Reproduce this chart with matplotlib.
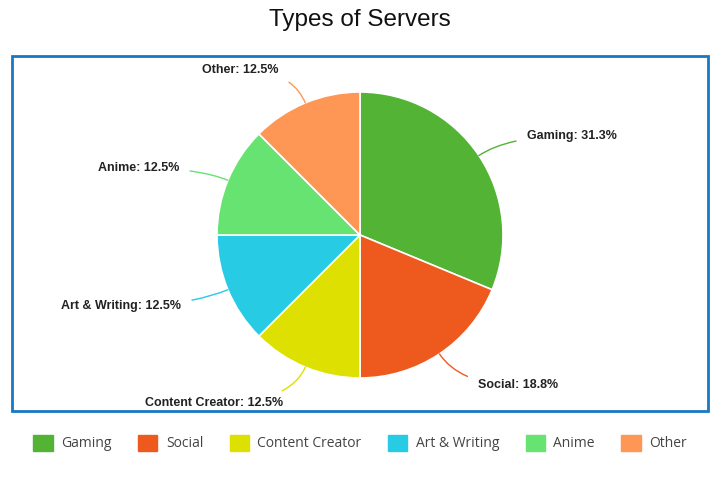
import numpy as np
import matplotlib
matplotlib.use("Agg")
from matplotlib import pyplot as plt
from matplotlib.patches import Rectangle, Patch

categories = ["Gaming", "Social", "Content Creator", "Art & Writing", "Anime", "Other"]
counts = [5, 3, 2, 2, 2, 2]
colors = ["#52b334", "#ee5a1e", "#dde000", "#27cbe4", "#66e371", "#fe9656"]

# label text positions (pixels) and text alignment
label_pos = [(527, 136, "left"), (478, 385, "left"), (283, 403, "right"),
             (181, 306, "right"), (179, 168, "right"), (279, 70, "right")]

fig = plt.figure(figsize=(7.2, 4.8), dpi=100)
ax = fig.add_axes([0, 0, 1, 1])

cx, cy, r = 360, 235, 143
# y axis is flipped below, so draw counterclockwise from -90 to get a clockwise pie from the top
wedges, _ = ax.pie(counts, colors=colors, startangle=-90, counterclock=True,
                   center=(cx, cy), radius=r, frame=True,
                   wedgeprops=dict(edgecolor="white", linewidth=1.2))
ax.set_xlim(0, 720)
ax.set_ylim(480, 0)
ax.axis("off")

total = sum(counts)
for w, name, c, col, (tx, ty, ha) in zip(wedges, categories, counts, colors, label_pos):
    mid_deg = (w.theta1 + w.theta2) / 2
    mid = np.deg2rad(mid_deg)
    px = cx + r * np.cos(mid)
    py = cy + r * np.sin(mid)
    pct = int(1000 * c / total + 0.5) / 10
    ax.annotate(f"{name}: {pct:.1f}%", xy=(px, py), xytext=(tx, ty),
                ha=ha, va="center", fontsize=9, fontweight="bold",
                family="Liberation Sans", color="#222222",
                arrowprops=dict(arrowstyle="-", color=col, lw=1,
                                shrinkA=6, shrinkB=0,
                                connectionstyle=f"angle3,angleA=0,angleB={-mid_deg}"))

ax.add_patch(Rectangle((12, 56), 696, 355, fill=False, edgecolor="#1a78c2", lw=2))

fig.text(0.5, 1 - 20 / 480, "Types of Servers", ha="center", va="center",
         fontsize=17.5, family="Liberation Sans", color="#111111")

handles = [Patch(facecolor=col, edgecolor=col) for col in colors]
fig.legend(handles, categories, loc="center", bbox_to_anchor=(0.5, 1 - 443 / 480),
           ncol=6, frameon=False, handlelength=1.4, handleheight=1.4,
           columnspacing=1.9, handletextpad=0.6, labelcolor="#444444",
           prop=dict(family="Open Sans", size=10))

fig.savefig("out.png", dpi=100)
